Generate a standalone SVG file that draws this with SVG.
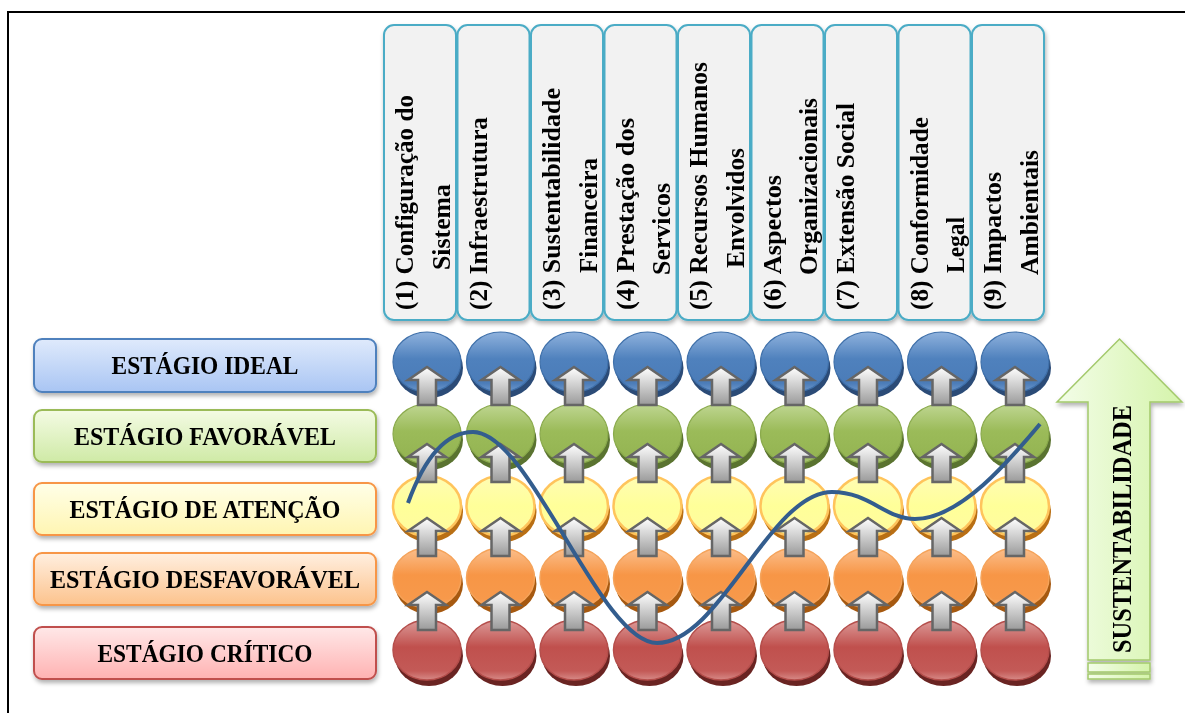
<svg xmlns="http://www.w3.org/2000/svg" width="1185" height="713" viewBox="0 0 1185 713">
  <defs>
    <style>
      .hdr rect { fill: #f2f2f2; stroke: #4bacc6; stroke-width: 2; }
      .txt { font-family: "Liberation Serif", "DejaVu Serif", serif; font-weight: bold; fill: #000; }
      .hdr text { font-size: 25px; }
      .lbl text { font-size: 26px; text-anchor: middle; }
      .lbl rect { stroke-width: 2; }
      .arrow { fill: url(#gArrow); stroke: #666; stroke-width: 2.5; stroke-linejoin: miter; }
      .curve { fill: none; stroke: #335d8e; stroke-width: 4; stroke-linecap: butt; }
    </style>

    <filter id="shadow" x="-20%" y="-20%" width="140%" height="150%">
      <feDropShadow dx="1" dy="3" stdDeviation="2" flood-color="#000" flood-opacity="0.3"/>
    </filter>

    <!-- label box fills -->
    <linearGradient id="lIdeal" x1="0" y1="0" x2="0" y2="1">
      <stop offset="0" stop-color="#dfeafc"/><stop offset="1" stop-color="#a9c5f3"/>
    </linearGradient>
    <linearGradient id="lFav" x1="0" y1="0" x2="0" y2="1">
      <stop offset="0" stop-color="#f4fbe4"/><stop offset="1" stop-color="#cfeaa6"/>
    </linearGradient>
    <linearGradient id="lAt" x1="0" y1="0" x2="0" y2="1">
      <stop offset="0" stop-color="#ffffe8"/><stop offset="1" stop-color="#fff5b2"/>
    </linearGradient>
    <linearGradient id="lDes" x1="0" y1="0" x2="0" y2="1">
      <stop offset="0" stop-color="#ffefe0"/><stop offset="1" stop-color="#fcc38d"/>
    </linearGradient>
    <linearGradient id="lCrit" x1="0" y1="0" x2="0" y2="1">
      <stop offset="0" stop-color="#ffe8e8"/><stop offset="1" stop-color="#ffb2b2"/>
    </linearGradient>

    <!-- disc faces -->
    <linearGradient id="fBlue" x1="0" y1="0" x2="0" y2="1">
      <stop offset="0" stop-color="#8fb2dd"/><stop offset="0.45" stop-color="#4f81bd"/>
      <stop offset="0.85" stop-color="#4b7cb8"/><stop offset="1" stop-color="#6f99cd"/>
    </linearGradient>
    <linearGradient id="fGreen" x1="0" y1="0" x2="0" y2="1">
      <stop offset="0" stop-color="#bfd692"/><stop offset="0.45" stop-color="#9bbb59"/>
      <stop offset="0.85" stop-color="#95b553"/><stop offset="1" stop-color="#b1cb7f"/>
    </linearGradient>
    <linearGradient id="fYellow" x1="0" y1="0" x2="0" y2="1">
      <stop offset="0" stop-color="#fffcb4"/><stop offset="0.5" stop-color="#ffff99"/>
      <stop offset="1" stop-color="#fffba0"/>
    </linearGradient>
    <linearGradient id="fOrange" x1="0" y1="0" x2="0" y2="1">
      <stop offset="0" stop-color="#fbbf8d"/><stop offset="0.45" stop-color="#f79646"/>
      <stop offset="0.85" stop-color="#f7994b"/><stop offset="1" stop-color="#f9b174"/>
    </linearGradient>
    <linearGradient id="fRed" x1="0" y1="0" x2="0" y2="1">
      <stop offset="0" stop-color="#dc9b99"/><stop offset="0.45" stop-color="#c0504d"/>
      <stop offset="0.85" stop-color="#c35a57"/><stop offset="1" stop-color="#d78a87"/>
    </linearGradient>

    <linearGradient id="gArrow" x1="0" y1="0" x2="0" y2="1">
      <stop offset="0" stop-color="#ffffff"/><stop offset="1" stop-color="#9a9a9a"/>
    </linearGradient>
    <linearGradient id="gBig" x1="0" y1="0" x2="1" y2="0">
      <stop offset="0" stop-color="#f3fde8"/><stop offset="1" stop-color="#d5f4ab"/>
    </linearGradient>

    <!-- discs: dark base under a shaded face -->
    <g id="dBlue"><ellipse cx="2" cy="6" rx="34" ry="30" fill="#2b4b77"/><ellipse rx="34" ry="30" fill="url(#fBlue)" stroke="#3f70aa" stroke-width="1.2"/></g>
    <g id="dGreen"><ellipse cx="2" cy="6" rx="34" ry="30" fill="#5a7330"/><ellipse rx="34" ry="30" fill="url(#fGreen)" stroke="#8aaa4c" stroke-width="1.2"/></g>
    <g id="dYellow"><ellipse cx="2" cy="6" rx="34" ry="30" fill="#b96f14"/><ellipse rx="34" ry="30" fill="url(#fYellow)" stroke="#ffc45c" stroke-width="2.5"/></g>
    <g id="dOrange"><ellipse cx="2" cy="6" rx="34" ry="30" fill="#a65910"/><ellipse rx="34" ry="30" fill="url(#fOrange)" stroke="#f5a35a" stroke-width="1.5"/></g>
    <g id="dRed"><ellipse cx="2" cy="6" rx="34" ry="30" fill="#6a2422"/><ellipse rx="34" ry="30" fill="url(#fRed)" stroke="#b54e4b" stroke-width="1.5"/></g>

    <path id="up" d="M0,0 L19,13 L9,13 L9,38 L-9,38 L-9,13 L-19,13 Z"/>
  </defs>

  <rect width="1185" height="713" fill="#fff"/>
  <!-- frame -->
  <path d="M8,713 V12 H1185" fill="none" stroke="#000" stroke-width="2"/>

  <!-- criteria headers -->
  <g class="hdr" filter="url(#shadow)">
    <g id="h1"><rect x="384" y="25" width="72" height="295" rx="10"/>
      <text class="txt" transform="translate(413,310) rotate(-90)" textLength="215" lengthAdjust="spacingAndGlyphs">(1) Configuração do</text>
      <text class="txt" transform="translate(449.5,270) rotate(-90)" textLength="86" lengthAdjust="spacingAndGlyphs">Sistema</text></g>
    <g id="h2"><rect x="457.5" y="25" width="72" height="295" rx="10"/>
      <text class="txt" transform="translate(486.5,310) rotate(-90)" textLength="193" lengthAdjust="spacingAndGlyphs">(2) Infraestrutura</text></g>
    <g id="h3"><rect x="531" y="25" width="72" height="295" rx="10"/>
      <text class="txt" transform="translate(560,310) rotate(-90)" textLength="222" lengthAdjust="spacingAndGlyphs">(3) Sustentabilidade</text>
      <text class="txt" transform="translate(596.5,273) rotate(-90)" textLength="115" lengthAdjust="spacingAndGlyphs">Financeira</text></g>
    <g id="h4"><rect x="604.5" y="25" width="72" height="295" rx="10"/>
      <text class="txt" transform="translate(633.5,310) rotate(-90)" textLength="192" lengthAdjust="spacingAndGlyphs">(4) Prestação dos</text>
      <text class="txt" transform="translate(670,275) rotate(-90)" textLength="92" lengthAdjust="spacingAndGlyphs">Servicos</text></g>
    <g id="h5"><rect x="678" y="25" width="72" height="295" rx="10"/>
      <text class="txt" transform="translate(707,310) rotate(-90)" textLength="248" lengthAdjust="spacingAndGlyphs">(5) Recursos Humanos</text>
      <text class="txt" transform="translate(743.5,268) rotate(-90)" textLength="120" lengthAdjust="spacingAndGlyphs">Envolvidos</text></g>
    <g id="h6"><rect x="751.5" y="25" width="72" height="295" rx="10"/>
      <text class="txt" transform="translate(780.5,310) rotate(-90)" textLength="135" lengthAdjust="spacingAndGlyphs">(6) Aspectos</text>
      <text class="txt" transform="translate(817,275) rotate(-90)" textLength="177" lengthAdjust="spacingAndGlyphs">Organizacionais</text></g>
    <g id="h7"><rect x="825" y="25" width="72" height="295" rx="10"/>
      <text class="txt" transform="translate(854,310) rotate(-90)" textLength="207" lengthAdjust="spacingAndGlyphs">(7) Extensão Social</text></g>
    <g id="h8"><rect x="898.5" y="25" width="72" height="295" rx="10"/>
      <text class="txt" transform="translate(927.5,310) rotate(-90)" textLength="193" lengthAdjust="spacingAndGlyphs">(8) Conformidade</text>
      <text class="txt" transform="translate(964,273) rotate(-90)" textLength="56" lengthAdjust="spacingAndGlyphs">Legal</text></g>
    <g id="h9"><rect x="972" y="25" width="72" height="295" rx="10"/>
      <text class="txt" transform="translate(1001,310) rotate(-90)" textLength="138" lengthAdjust="spacingAndGlyphs">(9) Impactos</text>
      <text class="txt" transform="translate(1037.5,275) rotate(-90)" textLength="125" lengthAdjust="spacingAndGlyphs">Ambientais</text></g>
  </g>

  <!-- stage labels -->
  <g class="lbl" filter="url(#shadow)">
    <g id="s-ideal"><rect x="34" y="339" width="342" height="53" rx="8" fill="url(#lIdeal)" stroke="#4f81bd"/>
      <text class="txt" x="205" y="374" textLength="187" lengthAdjust="spacingAndGlyphs">ESTÁGIO IDEAL</text></g>
    <g id="s-favoravel"><rect x="34" y="410" width="342" height="52" rx="8" fill="url(#lFav)" stroke="#9bbb59"/>
      <text class="txt" x="205" y="445" textLength="262" lengthAdjust="spacingAndGlyphs">ESTÁGIO FAVORÁVEL</text></g>
    <g id="s-atencao"><rect x="34" y="483" width="342" height="52" rx="8" fill="url(#lAt)" stroke="#f79646"/>
      <text class="txt" x="205" y="518" textLength="271" lengthAdjust="spacingAndGlyphs">ESTÁGIO DE ATENÇÃO</text></g>
    <g id="s-desfavoravel"><rect x="34" y="553" width="342" height="52" rx="8" fill="url(#lDes)" stroke="#f79646"/>
      <text class="txt" x="205" y="588" textLength="310" lengthAdjust="spacingAndGlyphs">ESTÁGIO DESFAVORÁVEL</text></g>
    <g id="s-critico"><rect x="34" y="627" width="342" height="52" rx="8" fill="url(#lCrit)" stroke="#c0504d"/>
      <text class="txt" x="205" y="662" textLength="215" lengthAdjust="spacingAndGlyphs">ESTÁGIO CRÍTICO</text></g>
  </g>

  <!-- stage discs, one column per criterion -->
  <g id="discs">
    <g id="c1"><use href="#dBlue" x="427" y="362"/><use href="#dGreen" x="427" y="434"/><use href="#dYellow" x="427" y="506"/><use href="#dOrange" x="427" y="578"/><use href="#dRed" x="427" y="650"/></g>
    <g id="c2"><use href="#dBlue" x="500.5" y="362"/><use href="#dGreen" x="500.5" y="434"/><use href="#dYellow" x="500.5" y="506"/><use href="#dOrange" x="500.5" y="578"/><use href="#dRed" x="500.5" y="650"/></g>
    <g id="c3"><use href="#dBlue" x="574" y="362"/><use href="#dGreen" x="574" y="434"/><use href="#dYellow" x="574" y="506"/><use href="#dOrange" x="574" y="578"/><use href="#dRed" x="574" y="650"/></g>
    <g id="c4"><use href="#dBlue" x="647.5" y="362"/><use href="#dGreen" x="647.5" y="434"/><use href="#dYellow" x="647.5" y="506"/><use href="#dOrange" x="647.5" y="578"/><use href="#dRed" x="647.5" y="650"/></g>
    <g id="c5"><use href="#dBlue" x="721" y="362"/><use href="#dGreen" x="721" y="434"/><use href="#dYellow" x="721" y="506"/><use href="#dOrange" x="721" y="578"/><use href="#dRed" x="721" y="650"/></g>
    <g id="c6"><use href="#dBlue" x="794.5" y="362"/><use href="#dGreen" x="794.5" y="434"/><use href="#dYellow" x="794.5" y="506"/><use href="#dOrange" x="794.5" y="578"/><use href="#dRed" x="794.5" y="650"/></g>
    <g id="c7"><use href="#dBlue" x="868" y="362"/><use href="#dGreen" x="868" y="434"/><use href="#dYellow" x="868" y="506"/><use href="#dOrange" x="868" y="578"/><use href="#dRed" x="868" y="650"/></g>
    <g id="c8"><use href="#dBlue" x="941.5" y="362"/><use href="#dGreen" x="941.5" y="434"/><use href="#dYellow" x="941.5" y="506"/><use href="#dOrange" x="941.5" y="578"/><use href="#dRed" x="941.5" y="650"/></g>
    <g id="c9"><use href="#dBlue" x="1015" y="362"/><use href="#dGreen" x="1015" y="434"/><use href="#dYellow" x="1015" y="506"/><use href="#dOrange" x="1015" y="578"/><use href="#dRed" x="1015" y="650"/></g>
  </g>

  <!-- connectors: step-up arrows and the sustainability profile -->
  <g id="connectors">
    <g class="arrow">
      <use href="#up" x="427" y="367"/><use href="#up" x="427" y="444"/><use href="#up" x="427" y="518"/><use href="#up" x="427" y="592"/>
      <use href="#up" x="500.5" y="367"/><use href="#up" x="500.5" y="444"/><use href="#up" x="500.5" y="518"/><use href="#up" x="500.5" y="592"/>
      <use href="#up" x="574" y="367"/><use href="#up" x="574" y="444"/><use href="#up" x="574" y="518"/><use href="#up" x="574" y="592"/>
      <use href="#up" x="647.5" y="367"/><use href="#up" x="647.5" y="444"/><use href="#up" x="647.5" y="518"/><use href="#up" x="647.5" y="592"/>
      <use href="#up" x="721" y="367"/><use href="#up" x="721" y="444"/><use href="#up" x="721" y="518"/><use href="#up" x="721" y="592"/>
      <use href="#up" x="794.5" y="367"/><use href="#up" x="794.5" y="444"/><use href="#up" x="794.5" y="518"/><use href="#up" x="794.5" y="592"/>
      <use href="#up" x="868" y="367"/><use href="#up" x="868" y="444"/><use href="#up" x="868" y="518"/><use href="#up" x="868" y="592"/>
      <use href="#up" x="941.5" y="367"/><use href="#up" x="941.5" y="444"/><use href="#up" x="941.5" y="518"/><use href="#up" x="941.5" y="592"/>
      <use href="#up" x="1015" y="367"/><use href="#up" x="1015" y="444"/><use href="#up" x="1015" y="518"/><use href="#up" x="1015" y="592"/>
    </g>
    <path class="curve" d="M408,503 C420,470 440,432 473,432 C530,432 600,643 657,643 C720,643 770,492 832,492 C870,492 885,519 915,519 C960,519 1010,460 1040,424"/>
  </g>

  <!-- sustainability axis -->
  <g id="sustentabilidade" filter="url(#shadow)">
    <path d="M1119.5,339 L1182,402 L1150,402 L1150,660 L1088,660 L1088,402 L1057,402 Z" fill="url(#gBig)" stroke="#a3c96b" stroke-width="1.5"/>
    <rect x="1088" y="663" width="62" height="9" fill="url(#gBig)" stroke="#a3c96b" stroke-width="1.5"/>
    <rect x="1088" y="674" width="62" height="5" fill="url(#gBig)" stroke="#a3c96b" stroke-width="1.5"/>
    <text class="txt" font-size="27" transform="translate(1131,653) rotate(-90)" textLength="248" lengthAdjust="spacingAndGlyphs">SUSTENTABILIDADE</text>
  </g>
</svg>
